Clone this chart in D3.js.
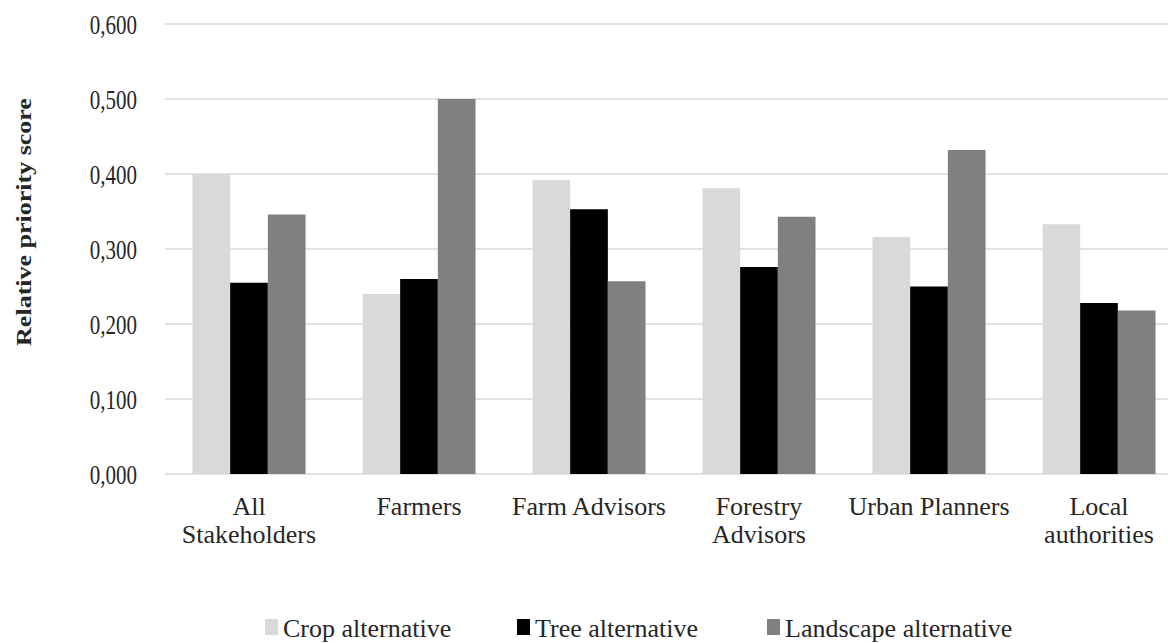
<!DOCTYPE html>
<html><head><meta charset="utf-8">
<script src="https://cdn.jsdelivr.net/npm/d3@7"></script>
<style>body{margin:0;background:#fff}svg{display:block}text{font-family:"Liberation Serif","Times New Roman",serif;fill:#262626}</style>
</head><body>
<svg id="c" width="1168" height="643"></svg>
<script>
const categories = [["All","Stakeholders"],["Farmers"],["Farm Advisors"],["Forestry","Advisors"],["Urban Planners"],["Local","authorities"]];
const seriesNames = ["Crop alternative","Tree alternative","Landscape alternative"];
const seriesColors = ["#d9d9d9","#000000","#808080"];
const crop = [0.400,0.240,0.392,0.381,0.316,0.333];
const tree = [0.255,0.260,0.353,0.276,0.250,0.228];
const landscape = [0.346,0.500,0.257,0.343,0.432,0.218];
const yTicks = [0,0.1,0.2,0.3,0.4,0.5,0.6];
const yTickLabels = ["0,000","0,100","0,200","0,300","0,400","0,500","0,600"];
const yTitle = "Relative priority score";

const values = [crop, tree, landscape];
const svg = d3.select("#c");
const y = d3.scaleLinear().domain([0,0.6]).range([474,24]);
const x0 = d3.scaleBand().domain(d3.range(categories.length)).range([164,1184]).paddingInner(0.335).paddingOuter(0.1675);
const x1 = d3.scaleBand().domain(d3.range(seriesNames.length)).range([0,x0.bandwidth()]);

// gridlines
svg.append("g").selectAll("line").data(yTicks).join("line")
  .attr("x1",165).attr("x2",1168).attr("y1",d=>y(d)).attr("y2",d=>y(d))
  .attr("stroke","#d9d9d9").attr("stroke-width",1.5);

// y tick labels
svg.append("g").selectAll("text").data(yTicks).join("text")
  .attr("transform",d=>`translate(137,${y(d)}) scale(1,1.3)`)
  .attr("text-anchor","end").attr("dy","0.35em")
  .style("font-size","21px").text((d,i)=>yTickLabels[i]);

// y title
svg.append("text").attr("transform","translate(31,222) rotate(-90) scale(1.3,1)")
  .attr("text-anchor","middle").style("font-size","20px").style("font-weight","bold")
  .text(yTitle);

// bars
const g = svg.append("g");
categories.forEach((c,ci)=>{
  g.append("g").attr("transform",`translate(${x0(ci)},0)`)
   .selectAll("rect").data(values.map((v,si)=>({si,v:v[ci]}))).join("rect")
   .attr("x",d=>x1(d.si)).attr("width",x1.bandwidth())
   .attr("y",d=>y(d.v)).attr("height",d=>y(0)-y(d.v))
   .attr("fill",d=>seriesColors[d.si]);
});

// category labels
categories.forEach((c,ci)=>{
  const t = svg.append("text").attr("text-anchor","middle").style("font-size","26px");
  c.forEach((line,li)=>{
    t.append("tspan").attr("x",x0(ci)+x0.bandwidth()/2).attr("y",515+li*28).text(line);
  });
});

// legend
const legendX = [265,517,767];
const lg = svg.append("g");
seriesNames.forEach((s,i)=>{
  lg.append("rect").attr("x",legendX[i]).attr("y",619).attr("width",13).attr("height",16).attr("fill",seriesColors[i]);
  lg.append("text").attr("x",legendX[i]+18).attr("y",637).style("font-size","26px").text(s);
});
</script>
</body></html>
